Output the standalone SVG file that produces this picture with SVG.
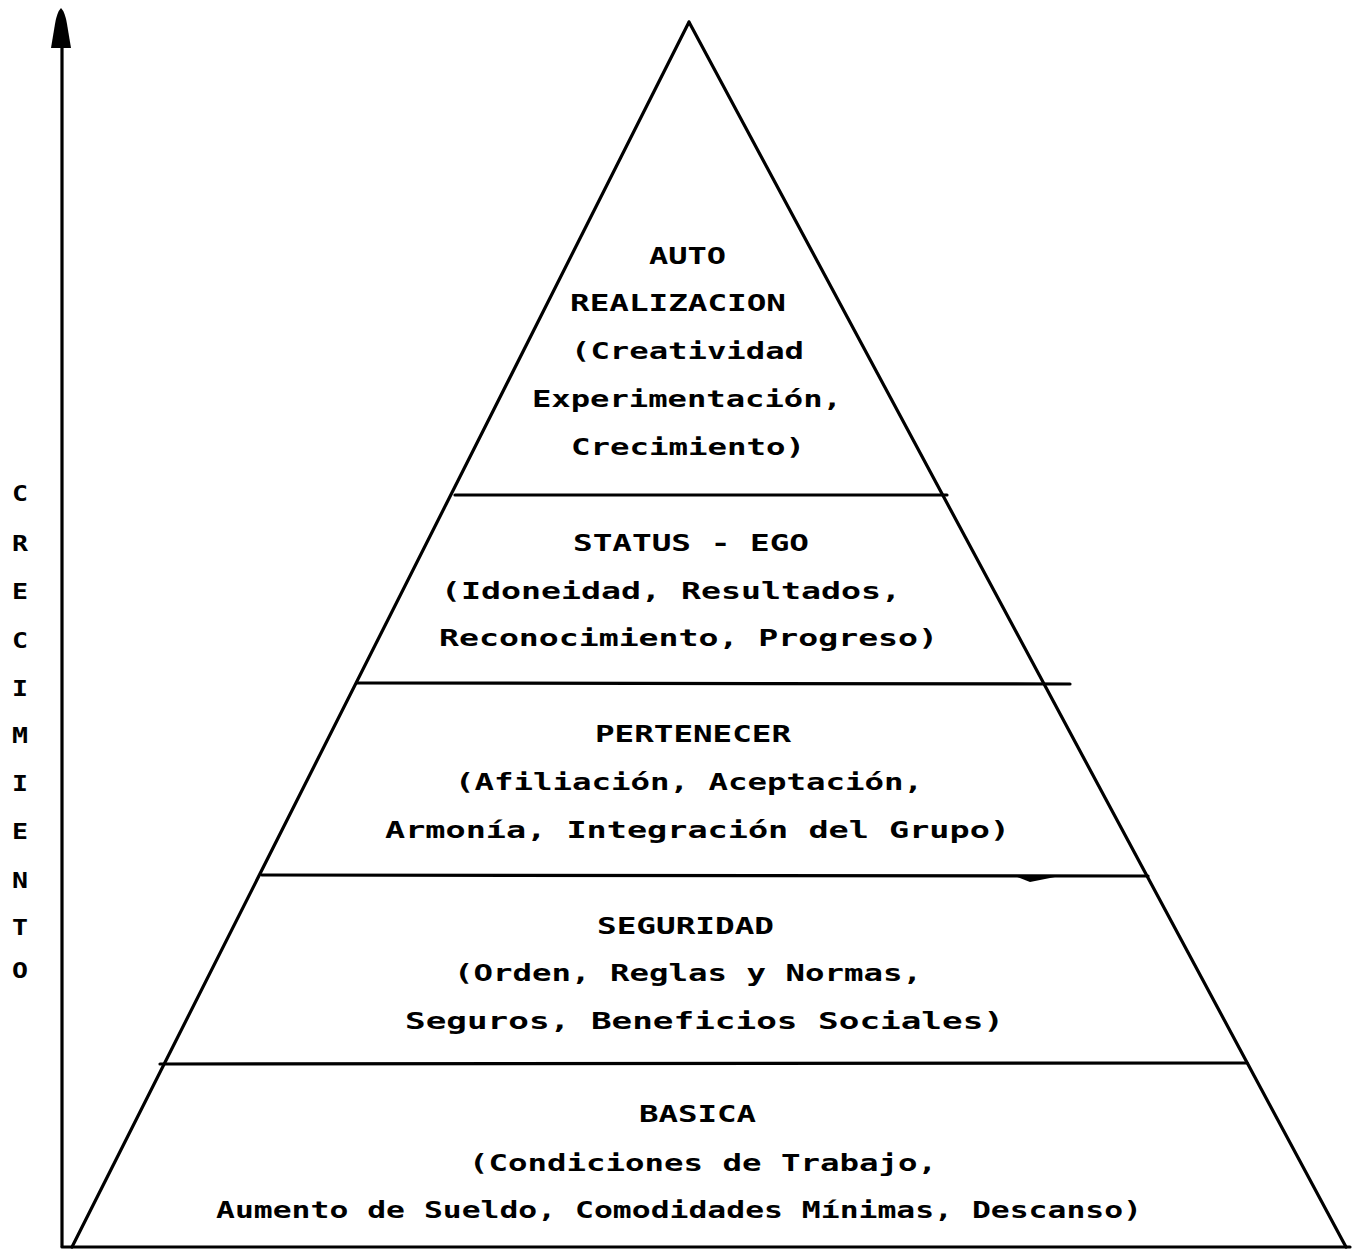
<svg xmlns="http://www.w3.org/2000/svg" width="1358" height="1251" viewBox="0 0 1358 1251">
<style>
.ln{stroke:#000;stroke-width:3.2;fill:none;stroke-linecap:round}
.t{font-family:"DejaVu Sans Mono","Liberation Mono",monospace;font-weight:bold;font-size:23px;fill:#000}
.v{font-family:"DejaVu Sans Mono","Liberation Mono",monospace;font-weight:bold;font-size:22px;fill:#000}
</style>
<rect width="1358" height="1251" fill="#fff"/>
<g id="connectors">
<line class="ln" x1="62" y1="1246" x2="62" y2="30"/>
<path d="M61,8 Q57,12 55,24 L51,48 L71,48 L67,24 Q65,12 61,8 Z" fill="#000"/>
<path id="pyramid" class="ln" d="M689,22 L72,1247 M689,22 L1346,1247"/>
<line class="ln" x1="62" y1="1247" x2="1350" y2="1247"/>
<line class="ln" x1="455" y1="495" x2="947" y2="495"/>
<line class="ln" x1="357" y1="683" x2="1070" y2="684"/>
<line class="ln" x1="262" y1="875" x2="1148" y2="876"/>
<path d="M1015,876 L1055,877 L1030,882 Z" fill="#000"/>
<line class="ln" x1="160" y1="1064" x2="1247" y2="1063"/>
</g>
<g id="axis-label">
<text class="v" x="12" y="501" textLength="16" lengthAdjust="spacingAndGlyphs">C</text>
<text class="v" x="12" y="551" textLength="16" lengthAdjust="spacingAndGlyphs">R</text>
<text class="v" x="12" y="599" textLength="16" lengthAdjust="spacingAndGlyphs">E</text>
<text class="v" x="12" y="648" textLength="16" lengthAdjust="spacingAndGlyphs">C</text>
<text class="v" x="12" y="696" textLength="16" lengthAdjust="spacingAndGlyphs">I</text>
<text class="v" x="12" y="743" textLength="16" lengthAdjust="spacingAndGlyphs">M</text>
<text class="v" x="12" y="791" textLength="16" lengthAdjust="spacingAndGlyphs">I</text>
<text class="v" x="12" y="839" textLength="16" lengthAdjust="spacingAndGlyphs">E</text>
<text class="v" x="12" y="888" textLength="16" lengthAdjust="spacingAndGlyphs">N</text>
<text class="v" x="12" y="935" textLength="16" lengthAdjust="spacingAndGlyphs">T</text>
<text class="v" x="12" y="978" textLength="16" lengthAdjust="spacingAndGlyphs">O</text>
</g>
<g id="level-auto">
<text class="t" x="649" y="264" textLength="77" lengthAdjust="spacingAndGlyphs">AUTO</text>
<text class="t" x="570" y="311" textLength="216" lengthAdjust="spacingAndGlyphs">REALIZACION</text>
<text class="t" x="571" y="359" textLength="233" lengthAdjust="spacingAndGlyphs">(Creatividad</text>
<text class="t" x="532" y="407" textLength="310" lengthAdjust="spacingAndGlyphs">Experimentación,</text>
<text class="t" x="571" y="455" textLength="234" lengthAdjust="spacingAndGlyphs">Crecimiento)</text>
</g>
<g id="level-status">
<text class="t" x="573" y="551" textLength="236" lengthAdjust="spacingAndGlyphs">STATUS - EGO</text>
<text class="t" x="441" y="599" textLength="460" lengthAdjust="spacingAndGlyphs">(Idoneidad, Resultados,</text>
<text class="t" x="439" y="646" textLength="499" lengthAdjust="spacingAndGlyphs">Reconocimiento, Progreso)</text>
</g>
<g id="level-pertenecer">
<text class="t" x="595" y="742" textLength="196" lengthAdjust="spacingAndGlyphs">PERTENECER</text>
<text class="t" x="455" y="790" textLength="468" lengthAdjust="spacingAndGlyphs">(Afiliación, Aceptación,</text>
<text class="t" x="385" y="838" textLength="625" lengthAdjust="spacingAndGlyphs">Armonía, Integración del Grupo)</text>
</g>
<g id="level-seguridad">
<text class="t" x="597" y="934" textLength="177" lengthAdjust="spacingAndGlyphs">SEGURIDAD</text>
<text class="t" x="454" y="981" textLength="468" lengthAdjust="spacingAndGlyphs">(Orden, Reglas y Normas,</text>
<text class="t" x="405" y="1029" textLength="599" lengthAdjust="spacingAndGlyphs">Seguros, Beneficios Sociales)</text>
</g>
<g id="level-basica">
<text class="t" x="639" y="1122" textLength="117" lengthAdjust="spacingAndGlyphs">BASICA</text>
<text class="t" x="469" y="1171" textLength="468" lengthAdjust="spacingAndGlyphs">(Condiciones de Trabajo,</text>
<text class="t" x="216" y="1218" textLength="926" lengthAdjust="spacingAndGlyphs">Aumento de Sueldo, Comodidades Mínimas, Descanso)</text>
</g>
</svg>
